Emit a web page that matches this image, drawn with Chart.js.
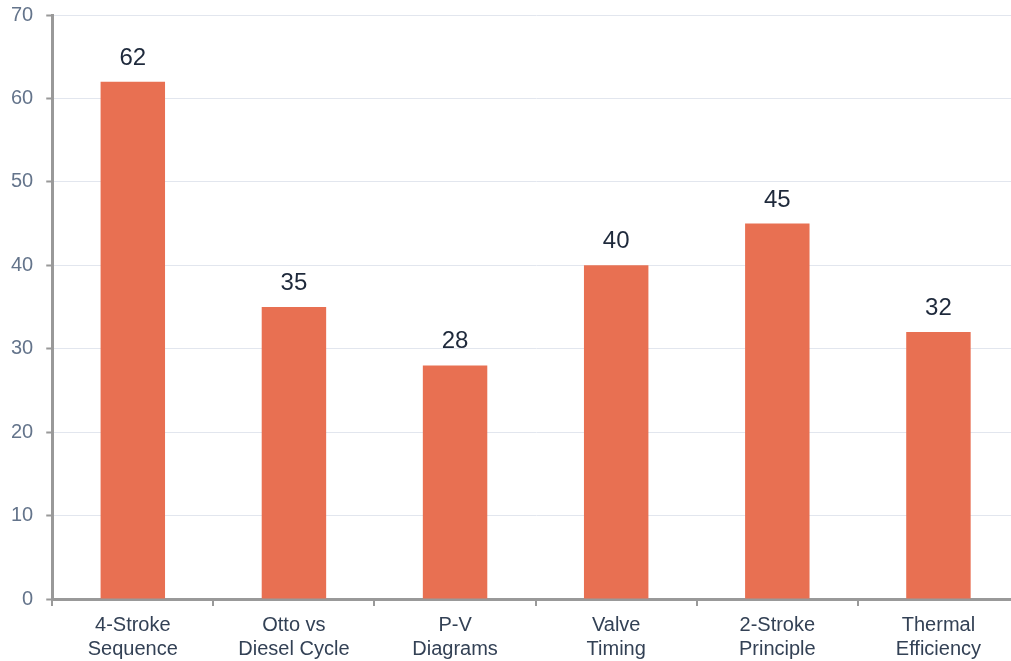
<!DOCTYPE html>
<html>
<head>
<meta charset="utf-8">
<script src="https://cdn.jsdelivr.net/npm/chart.js@4.4.1/dist/chart.umd.min.js"></script>
<style>
  html, body { margin: 0; padding: 0; overflow: hidden; background: #fff; }
  #wrap { width: 1022px; height: 678px; margin-left: -3px; margin-top: -10px; }
</style>
</head>
<body>
<div id="wrap"><canvas id="my-chart"></canvas></div>
<script>
const topics = [
  ['4-Stroke', 'Sequence'],
  ['Otto vs', 'Diesel Cycle'],
  ['P-V', 'Diagrams'],
  ['Valve', 'Timing'],
  ['2-Stroke', 'Principle'],
  ['Thermal', 'Efficiency']
];
const scores = [62, 35, 28, 40, 45, 32];
const yTicks = [0, 10, 20, 30, 40, 50, 60, 70];

// draws the number on top of each bar
const barLabels = {
  id: 'barLabels',
  afterDatasetsDraw(chart) {
    const ctx = chart.ctx;
    const meta = chart.getDatasetMeta(0);
    ctx.save();
    ctx.font = '24px "Liberation Sans", Arial, sans-serif';
    ctx.fillStyle = '#1e293b';
    ctx.textAlign = 'center';
    ctx.textBaseline = 'alphabetic';
    meta.data.forEach((bar, i) => {
      ctx.fillText(String(scores[i]), bar.x, bar.y - 17);
    });
    ctx.restore();
  }
};

const ctx = document.getElementById('my-chart').getContext('2d');
const chart = new Chart(ctx, {
  type: 'bar',
  data: {
    labels: topics,
    datasets: [{
      data: scores,
      backgroundColor: '#e87052',
      borderWidth: 0,
      barPercentage: 0.4,
      categoryPercentage: 1
    }]
  },
  options: {
    responsive: true,
    maintainAspectRatio: false,
    animation: false,
    layout: { padding: { left: 1, top: 0, right: 0, bottom: 0 } },
    plugins: {
      legend: { display: false },
      tooltip: { enabled: false }
    },
    scales: {
      x: {
        grid: {
          offset: true,
          drawOnChartArea: false,
          color: '#999999',
          lineWidth: 2,
          tickLength: 7
        },
        border: { color: '#999999', width: 3 },
        ticks: {
          color: '#334155',
          font: { family: '"Liberation Sans", Arial, sans-serif', size: 20 },
          padding: 7,
          maxRotation: 0
        }
      },
      y: {
        min: 0,
        max: 70,
        afterBuildTicks(axis) {
          axis.ticks = yTicks.map(v => ({ value: v }));
        },
        grid: {
          color: '#e2e6ee',
          lineWidth: 1,
          tickLength: 6,
          tickColor: '#999999',
          tickWidth: 2
        },
        border: { color: '#999999', width: 3 },
        ticks: {
          color: '#64748b',
          font: { family: '"Liberation Sans", Arial, sans-serif', size: 20 },
          padding: 13
        }
      }
    }
  },
  plugins: [barLabels]
});
</script>
</body>
</html>
